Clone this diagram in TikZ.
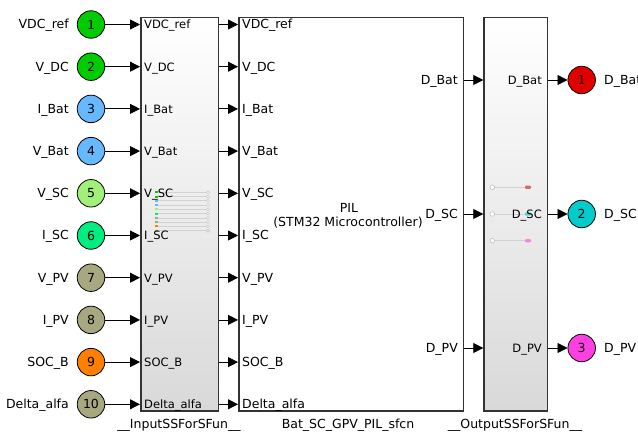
\documentclass[tikz,border=0pt]{standalone}
\usepackage{fontspec}
\setmainfont{DejaVu Sans}
\usetikzlibrary{arrows.meta}
\definecolor{cA}{HTML}{00CC00}
\definecolor{cB}{HTML}{66B8FF}
\definecolor{cC}{HTML}{A0F07A}
\definecolor{cD}{HTML}{00EE80}
\definecolor{cE}{HTML}{A8A880}
\definecolor{cF}{HTML}{FF8000}
\definecolor{oA}{HTML}{E00000}
\definecolor{oB}{HTML}{00CCCC}
\definecolor{oC}{HTML}{FF40E0}
\definecolor{doA}{HTML}{E06868}
\definecolor{doB}{HTML}{50D0D0}
\definecolor{doC}{HTML}{F088E0}
\newcommand\fmain{\fontsize{12.5}{14}\selectfont}
\newcommand\fsmall{\fontsize{11.5}{13}\selectfont}
\begin{document}
\begin{tikzpicture}[x=1pt,y=-1pt,
  inport/.style={circle, draw=black, line width=0.8pt, minimum size=27.5pt, inner sep=0pt, font=\fmain},
  blk/.style={draw=black!80, line width=1.5pt, anchor=north west, inner sep=0pt, minimum height=393.3pt},
  shadedblk/.style={blk, top color=white, bottom color=gray!30},
  wire/.style={draw=black, line width=0.8pt, -{Triangle[length=10pt,width=10pt]}},
  lbl/.style={inner sep=0pt, font=\fmain},
  slbl/.style={inner sep=0pt, font=\fsmall},
  deco/.style={draw=gray!35, line width=0.7pt}
]
\useasboundingbox (0,0) rectangle (638,433);
\clip (0,0) rectangle (638,433);
\fill[white] (0,0) rectangle (638,433);

% blocks
\node[shadedblk, minimum width=77.5pt] (inblk) at (140,16.7) {};
\node[blk, fill=white, minimum width=224.7pt] (pil) at (238,16.7) {};
\node[shadedblk, minimum width=63.4pt] (outblk) at (483.3,16.7) {};

% decorations inside input block
\foreach \k/\c in {0/cA,1/cA,2/cB,3/cB,4/cC,5/cD,6/cE,7/cE,8/cF,9/cE}{
  \pgfmathsetmacro\yy{192.3+4.27*\k}
  \draw[deco] (157.5,\yy) -- (206.5,\yy);
  \fill[\c] (154.5,\yy-1) rectangle (157.5,\yy+1);
  \draw[gray!55, fill=white, line width=0.4pt] (208,\yy) circle (1.5);
}
% decorations inside output block
\foreach \yy/\c in {187.3/doA, 214/doB, 240.7/doC}{
  \draw[deco] (494.6,\yy) -- (525,\yy);
  \draw[gray!55, fill=white, line width=0.5pt] (492.3,\yy) circle (2.3);
  \fill[\c, rounded corners=1pt] (525,\yy-1.6) rectangle (531,\yy+1.6);
}

% inputs
\foreach \i/\t/\c in {1/VDC\_ref/cA, 2/V\_DC/cA, 3/I\_Bat/cB, 4/V\_Bat/cB, 5/V\_SC/cC, 6/I\_SC/cD, 7/V\_PV/cE, 8/I\_PV/cE, 9/SOC\_B/cF, 10/Delta\_alfa/cE}{
  \pgfmathsetmacro\y{24.5+42.2*(\i-1)}
  \node[inport, fill=\c] (in\i) at (91,\y) {\i};
  \node[lbl, anchor=base east] (inl\i) at (69,\y+4.5) {\t};
  \node[slbl, anchor=base west] (ia\i) at (144,\y+4.5) {\t};
  \node[lbl, anchor=base west] (pa\i) at (242,\y+4.5) {\t};
  \draw[wire] (in\i) -- (in\i -| inblk.west);
  \draw[wire] (inblk.east |- in\i) -- (in\i -| pil.west);
}

% outputs
\foreach \j/\t/\c/\y in {1/D\_Bat/oA/80, 2/D\_SC/oB/214, 3/D\_PV/oC/348}{
  \coordinate (r\j) at (470,\y);
  \node[lbl, anchor=base east] (pb\j) at (458,\y+4.5) {\t};
  \node[slbl, anchor=base east] (ob\j) at (542,\y+4.5) {\t};
  \node[inport, fill=\c] (out\j) at (581.7,\y) {\j};
  \node[lbl, anchor=base west] (outl\j) at (604,\y+4.5) {\t};
  \draw[wire] (pil.east |- r\j) -- (r\j -| outblk.west);
  \draw[wire] (outblk.east |- r\j) -- (out\j);
}

% central text
\node[lbl, anchor=base] (piltitle) at (349,212.7) {PIL};
\node[lbl, anchor=base] (pilsub) at (348,226.7) {(STM32 Microcontroller)};

% names under blocks
\node[lbl, anchor=base] (inname) at (179,428.5) {\_\_InputSSForSFun\_\_};
\node[lbl, anchor=base] (pilname) at (348,428.5) {Bat\_SC\_GPV\_PIL\_sfcn};
\node[lbl, anchor=base] (outname) at (515,428.5) {\_\_OutputSSForSFun\_\_};
\end{tikzpicture}
\end{document}
